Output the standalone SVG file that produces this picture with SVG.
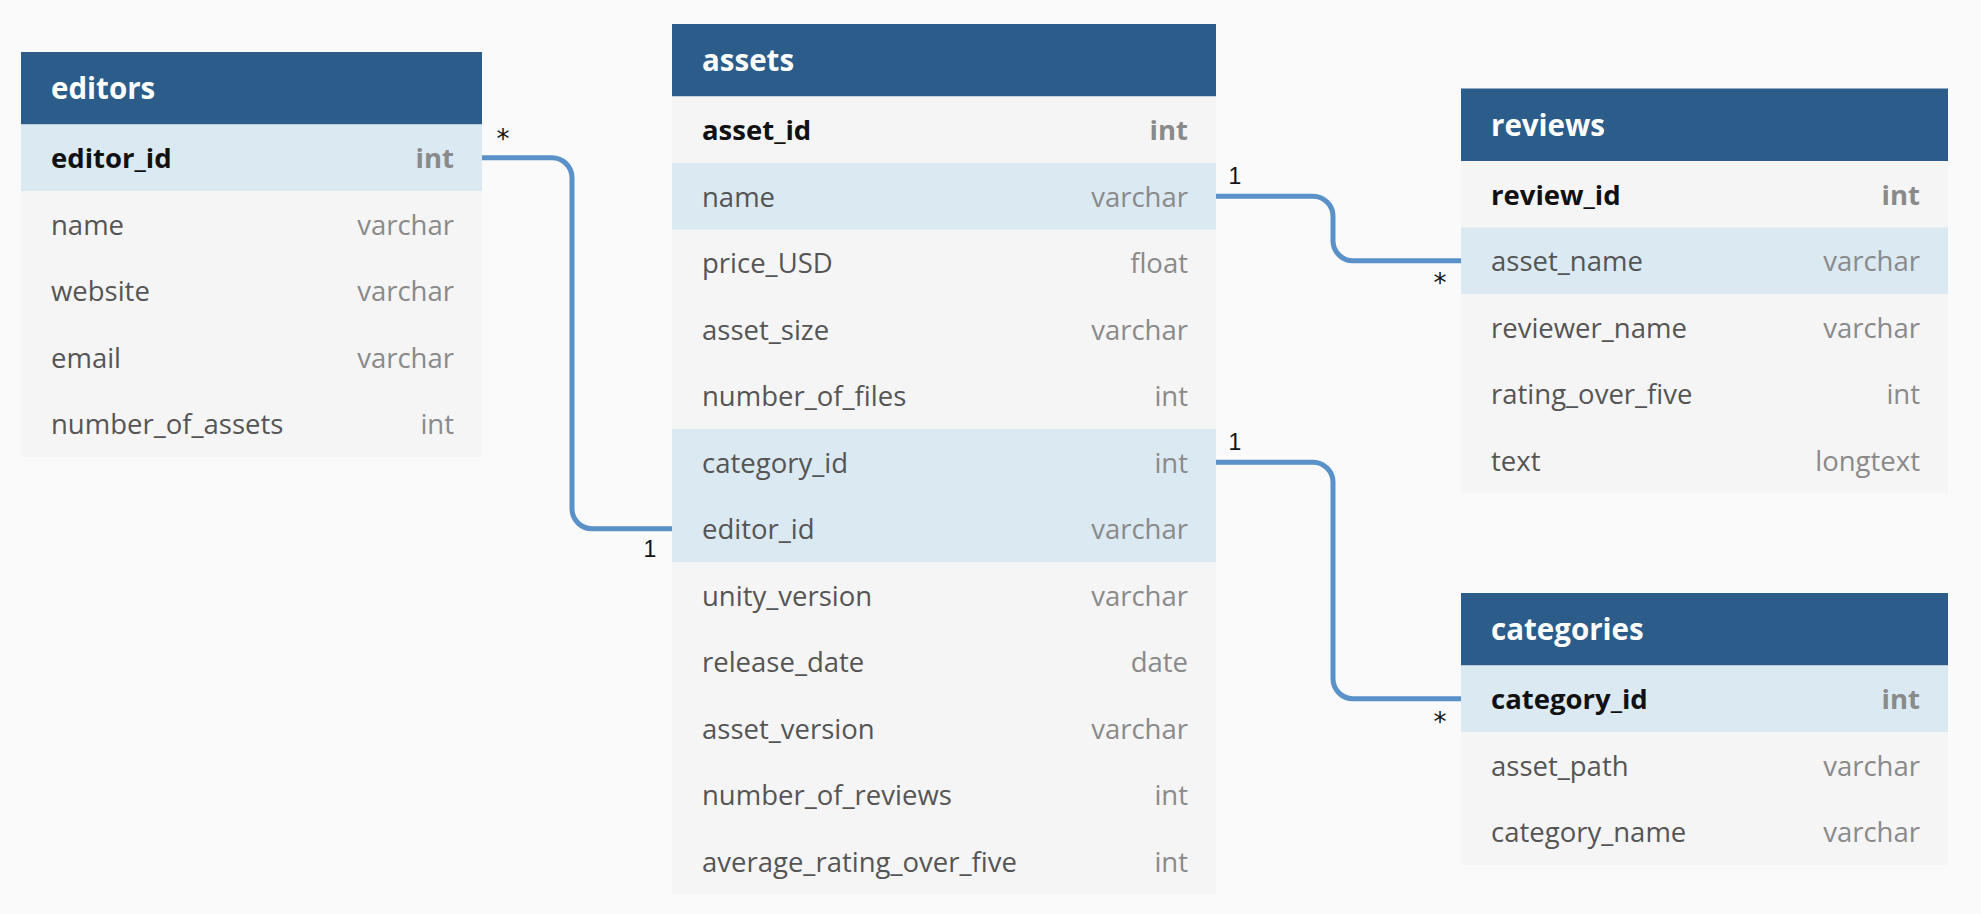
<svg xmlns="http://www.w3.org/2000/svg" width="1981" height="914" viewBox="0 0 1981 914">
<style>
.bg{fill:#fafafa}
.hdr{fill:#2c5d8a}
.row{fill:#f5f5f5}
.hl{fill:#dae9f2}
.title{font-family:"Open Sans",sans-serif;font-weight:700;font-size:29.5px;fill:#ffffff}
.f{font-family:"Open Sans",sans-serif;font-size:27.5px;fill:#555555}
.fk{font-family:"Open Sans",sans-serif;font-size:27.5px;font-weight:700;fill:#111111}
.t{font-family:"Open Sans",sans-serif;font-size:27.5px;fill:#8a8a8a;text-anchor:end}
.tk{font-family:"Open Sans",sans-serif;font-size:27.5px;font-weight:700;fill:#8a8a8a;text-anchor:end}
.conn{fill:none;stroke:#5a91c8;stroke-width:5}
.lbl{font-family:"Liberation Sans",Arial,sans-serif;font-size:23px;fill:#111111;text-anchor:middle}
.star{font-family:"DejaVu Sans",sans-serif;font-size:26px;fill:#111111;text-anchor:middle}
</style>
<rect class="bg" x="0" y="0" width="1981" height="914"/>

<g id="connectors">
<path class="conn" d="M482 157.75 H552 A20 20 0 0 1 572 177.75 V508.75 A20 20 0 0 0 592 528.75 H672"/>
<path class="conn" d="M1216 196.25 H1313 A20 20 0 0 1 1333 216.25 V240.75 A20 20 0 0 0 1353 260.75 H1461"/>
<path class="conn" d="M1216 462.25 H1313 A20 20 0 0 1 1333 482.25 V678.75 A20 20 0 0 0 1353 698.75 H1461"/>
<text class="star" x="503" y="147.5">*</text>
<text class="lbl" x="650" y="557">1</text>
<text class="lbl" x="1235" y="184">1</text>
<text class="lbl" x="1235" y="450">1</text>
<text class="star" x="1440" y="292">*</text>
<text class="star" x="1440" y="731">*</text>
</g>

<g id="editors">
<rect class="hdr" x="21" y="52" width="461" height="72.5"/>
<text class="title" x="51" y="99">editors</text>
<rect class="hl" x="21" y="124.5" width="461" height="66.5"/>
<rect class="row" x="21" y="191" width="461" height="266"/>
<text class="fk" x="51" y="168">editor_id</text><text class="tk" x="454" y="168">int</text>
<text class="f" x="51" y="234.5">name</text><text class="t" x="454" y="234.5">varchar</text>
<text class="f" x="51" y="301">website</text><text class="t" x="454" y="301">varchar</text>
<text class="f" x="51" y="367.5">email</text><text class="t" x="454" y="367.5">varchar</text>
<text class="f" x="51" y="434">number_of_assets</text><text class="t" x="454" y="434">int</text>
</g>

<g id="assets">
<rect class="hdr" x="672" y="24" width="544" height="72.5"/>
<text class="title" x="702" y="71">assets</text>
<rect class="row" x="672" y="96.5" width="544" height="798"/>
<rect class="hl" x="672" y="163" width="544" height="66.5"/>
<rect class="hl" x="672" y="429" width="544" height="133"/>
<text class="fk" x="702" y="140">asset_id</text><text class="tk" x="1188" y="140">int</text>
<text class="f" x="702" y="206.5">name</text><text class="t" x="1188" y="206.5">varchar</text>
<text class="f" x="702" y="273">price_USD</text><text class="t" x="1188" y="273">float</text>
<text class="f" x="702" y="339.5">asset_size</text><text class="t" x="1188" y="339.5">varchar</text>
<text class="f" x="702" y="406">number_of_files</text><text class="t" x="1188" y="406">int</text>
<text class="f" x="702" y="472.5">category_id</text><text class="t" x="1188" y="472.5">int</text>
<text class="f" x="702" y="539">editor_id</text><text class="t" x="1188" y="539">varchar</text>
<text class="f" x="702" y="605.5">unity_version</text><text class="t" x="1188" y="605.5">varchar</text>
<text class="f" x="702" y="672">release_date</text><text class="t" x="1188" y="672">date</text>
<text class="f" x="702" y="738.5">asset_version</text><text class="t" x="1188" y="738.5">varchar</text>
<text class="f" x="702" y="805">number_of_reviews</text><text class="t" x="1188" y="805">int</text>
<text class="f" x="702" y="871.5">average_rating_over_five</text><text class="t" x="1188" y="871.5">int</text>
</g>

<g id="reviews">
<rect class="hdr" x="1461" y="88.5" width="487" height="72.5"/>
<text class="title" x="1491" y="135.5">reviews</text>
<rect class="row" x="1461" y="161" width="487" height="332.5"/>
<rect class="hl" x="1461" y="227.5" width="487" height="66.5"/>
<text class="fk" x="1491" y="204.5">review_id</text><text class="tk" x="1920" y="204.5">int</text>
<text class="f" x="1491" y="271">asset_name</text><text class="t" x="1920" y="271">varchar</text>
<text class="f" x="1491" y="337.5">reviewer_name</text><text class="t" x="1920" y="337.5">varchar</text>
<text class="f" x="1491" y="404">rating_over_five</text><text class="t" x="1920" y="404">int</text>
<text class="f" x="1491" y="470.5">text</text><text class="t" x="1920" y="470.5">longtext</text>
</g>

<g id="categories">
<rect class="hdr" x="1461" y="593" width="487" height="72.5"/>
<text class="title" x="1491" y="640">categories</text>
<rect class="hl" x="1461" y="665.5" width="487" height="66.5"/>
<rect class="row" x="1461" y="732" width="487" height="133"/>
<text class="fk" x="1491" y="709">category_id</text><text class="tk" x="1920" y="709">int</text>
<text class="f" x="1491" y="775.5">asset_path</text><text class="t" x="1920" y="775.5">varchar</text>
<text class="f" x="1491" y="842">category_name</text><text class="t" x="1920" y="842">varchar</text>
</g>
</svg>
